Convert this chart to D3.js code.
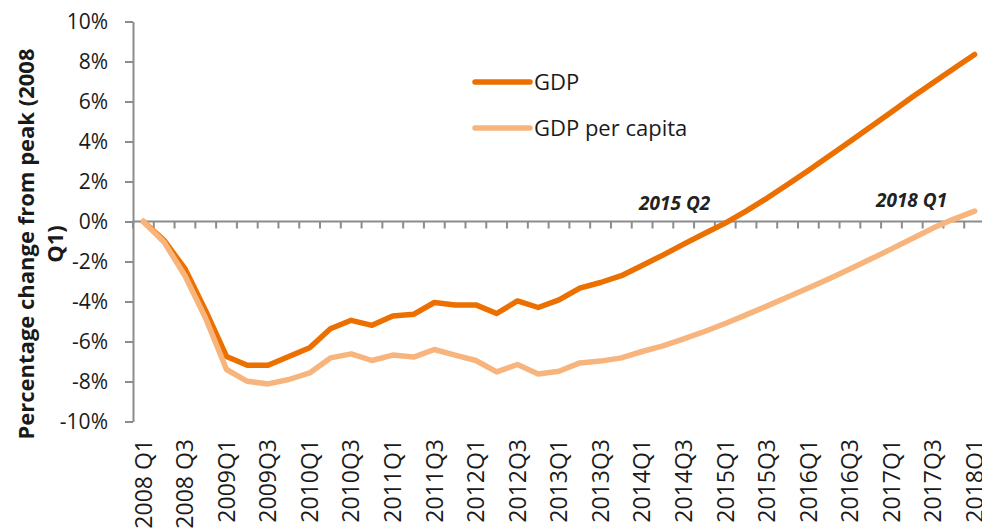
<!DOCTYPE html>
<html>
<head>
<meta charset="utf-8">
<script src="https://cdn.jsdelivr.net/npm/d3@7/dist/d3.min.js"></script>
<style>
  body { margin: 0; background: #fff; }
  svg { display: block; font-family: 'Open Sans', sans-serif; }
</style>
</head>
<body>
<div id="chart"></div>
<script>
const quarters = [
  `2008 Q1`, `2008 Q2`, `2008 Q3`, `2008 Q4`,
  `2009Q1`, `2009Q2`, `2009Q3`, `2009Q4`,
  `2010Q1`, `2010Q2`, `2010Q3`, `2010Q4`,
  `2011Q1`, `2011Q2`, `2011Q3`, `2011Q4`,
  `2012Q1`, `2012Q2`, `2012Q3`, `2012Q4`,
  `2013Q1`, `2013Q2`, `2013Q3`, `2013Q4`,
  `2014Q1`, `2014Q2`, `2014Q3`, `2014Q4`,
  `2015Q1`, `2015Q2`, `2015Q3`, `2015Q4`,
  `2016Q1`, `2016Q2`, `2016Q3`, `2016Q4`,
  `2017Q1`, `2017Q2`, `2017Q3`, `2017Q4`,
  `2018Q1`,
];

// % change from 2008 Q1 peak
const gdp = [
  0, -0.95, -2.36, -4.47, -6.75, -7.19, -7.19, -6.75,
  -6.31, -5.36, -4.94, -5.19, -4.72, -4.64, -4.05, -4.17,
  -4.17, -4.60, -3.97, -4.30, -3.92, -3.33, -3.05, -2.71,
  -2.20, -1.68, -1.13, -0.60, -0.08, 0.52, 1.16, 1.85,
  2.55, 3.27, 4.00, 4.74, 5.48, 6.22, 6.94, 7.65,
  8.35,
];

const gdpPerCapita = [
  0, -1.04, -2.71, -4.85, -7.40, -7.99, -8.12, -7.90,
  -7.57, -6.82, -6.62, -6.95, -6.68, -6.78, -6.40, -6.68,
  -6.95, -7.52, -7.15, -7.62, -7.49, -7.07, -6.98, -6.82,
  -6.50, -6.22, -5.87, -5.50, -5.10, -4.67, -4.23, -3.78,
  -3.33, -2.86, -2.38, -1.88, -1.37, -0.85, -0.33, 0.12,
  0.52,
];

const yTicks = [-10, -8, -6, -4, -2, 0, 2, 4, 6, 8, 10];
const seriesNames = [`GDP`, `GDP per capita`];
const annotationLabels = [`2015 Q2`, `2018 Q1`];
const yTitle = [`Percentage change from peak (2008`, `Q1)`];

class LineChart {
  constructor(el) {
    this.el = el;
    this.width = 982;
    this.height = 529;
    this.plot = {left: 133, right: 985, top: 21.5, bottom: 421.5};
    this.colors = [`#ec7000`, `#f7b57d`];
    this.axisColor = `#8c8c8c`;
    this.svg = d3.select(this.el)
      .append(`svg`)
        .attr(`width`, this.width)
        .attr(`height`, this.height);
  }

  setScales() {
    this.x = d3.scaleBand()
      .domain(quarters)
      .range([this.plot.left, this.plot.right]);
    this.cx = q => this.x(q) + this.x.bandwidth() / 2;

    this.y = d3.scaleLinear()
      .domain([-10, 10])
      .range([this.plot.bottom, this.plot.top]);
  }

  drawAxes() {
    const yAxis = this.svg.append(`g`)
      .attr(`transform`, `translate(${this.plot.left},0)`)
      .call(d3.axisLeft(this.y)
        .tickValues(yTicks)
        .tickSize(8)
        .tickSizeOuter(0)
        .tickPadding(17)
        .tickFormat(d => `${d}%`));

    yAxis.select(`.domain`)
      .attr(`stroke`, this.axisColor)
      .attr(`stroke-width`, 2);
    yAxis.selectAll(`.tick line`)
      .attr(`stroke`, this.axisColor)
      .attr(`stroke-width`, 2);
    yAxis.selectAll(`.tick text`)
      .attr(`fill`, `#1a1a1a`)
      .style(`font-family`, `'Open Sans', sans-serif`)
      .style(`font-size`, `21px`);

    // category axis sits on the 0% line, ticks between quarters
    const y0 = this.y(0);
    const xAxis = this.svg.append(`g`);
    const bounds = quarters.map(q => this.x(q)).concat([this.x.range()[1]]);

    xAxis.append(`line`)
      .attr(`x1`, this.plot.left)
      .attr(`x2`, this.plot.right)
      .attr(`y1`, y0)
      .attr(`y2`, y0)
      .attr(`stroke`, this.axisColor)
      .attr(`stroke-width`, 2);

    xAxis.selectAll(`.x-tick`)
      .data(bounds)
      .enter().append(`line`)
        .attr(`class`, `x-tick`)
        .attr(`x1`, d => d)
        .attr(`x2`, d => d)
        .attr(`y1`, y0)
        .attr(`y2`, y0 + 7)
        .attr(`stroke`, this.axisColor)
        .attr(`stroke-width`, 2);

    // labels every second quarter, at the bottom of the plot
    this.svg.append(`g`)
      .selectAll(`text`)
      .data(quarters.filter((q, i) => i % 2 === 0))
      .enter().append(`text`)
        .attr(`transform`, d => `translate(${this.cx(d)},439) rotate(-90)`)
        .attr(`dy`, `0.36em`)
        .attr(`text-anchor`, `end`)
        .attr(`fill`, `#1a1a1a`)
        .style(`font-size`, `23px`)
        .text(d => d);

    const title = this.svg.append(`text`)
      .attr(`transform`, `translate(0,244) rotate(-90)`)
      .attr(`text-anchor`, `middle`)
      .attr(`fill`, `#1a1a1a`)
      .style(`font-size`, `22px`)
      .style(`font-weight`, `bold`);
    title.selectAll(`tspan`)
      .data(yTitle)
      .enter().append(`tspan`)
        .attr(`x`, 0)
        .attr(`y`, (d, i) => (i === 0 ? 34 : 63))
        .text(d => d);
  }

  drawLines() {
    const line = d3.line()
      .x((d, i) => this.cx(quarters[i]))
      .y(d => this.y(d));

    this.svg.selectAll(`.series`)
      .data([gdp, gdpPerCapita])
      .enter().append(`path`)
        .attr(`class`, `series`)
        .attr(`d`, line)
        .attr(`fill`, `none`)
        .attr(`stroke`, (d, i) => this.colors[i])
        .attr(`stroke-width`, 5.5)
        .attr(`stroke-linejoin`, `round`)
        .attr(`stroke-linecap`, `round`);
  }

  drawLegend() {
    const item = this.svg.append(`g`)
      .selectAll(`g`)
      .data(seriesNames)
      .enter().append(`g`)
        .attr(`transform`, (d, i) => `translate(475,${82 + i * 46})`);

    item.append(`line`)
      .attr(`x1`, 0)
      .attr(`x2`, 55)
      .attr(`stroke`, (d, i) => this.colors[i])
      .attr(`stroke-width`, 5.5)
      .attr(`stroke-linecap`, `round`);

    item.append(`text`)
      .attr(`x`, 59)
      .attr(`y`, 7.5)
      .attr(`fill`, `#1a1a1a`)
      .style(`font-size`, `22px`)
      .text(d => d);
  }

  drawAnnotations() {
    // GDP back above peak / GDP per capita back above peak
    const spots = [
      {q: `2015Q1`, dx: -15, baseline: 210},
      {q: `2018Q1`, dx: -27.5, baseline: 207},
    ];

    this.svg.append(`g`)
      .selectAll(`text`)
      .data(annotationLabels)
      .enter().append(`text`)
        .attr(`x`, (d, i) => this.cx(spots[i].q) + spots[i].dx)
        .attr(`y`, (d, i) => spots[i].baseline)
        .attr(`text-anchor`, `end`)
        .attr(`fill`, `#222`)
        .style(`font-size`, `19px`)
        .style(`font-weight`, `bold`)
        .style(`font-style`, `italic`)
        .text(d => d);
  }

  render() {
    this.setScales();
    this.drawAxes();
    this.drawLines();
    this.drawLegend();
    this.drawAnnotations();
  }
}

new LineChart(`#chart`).render();
</script>
</body>
</html>
